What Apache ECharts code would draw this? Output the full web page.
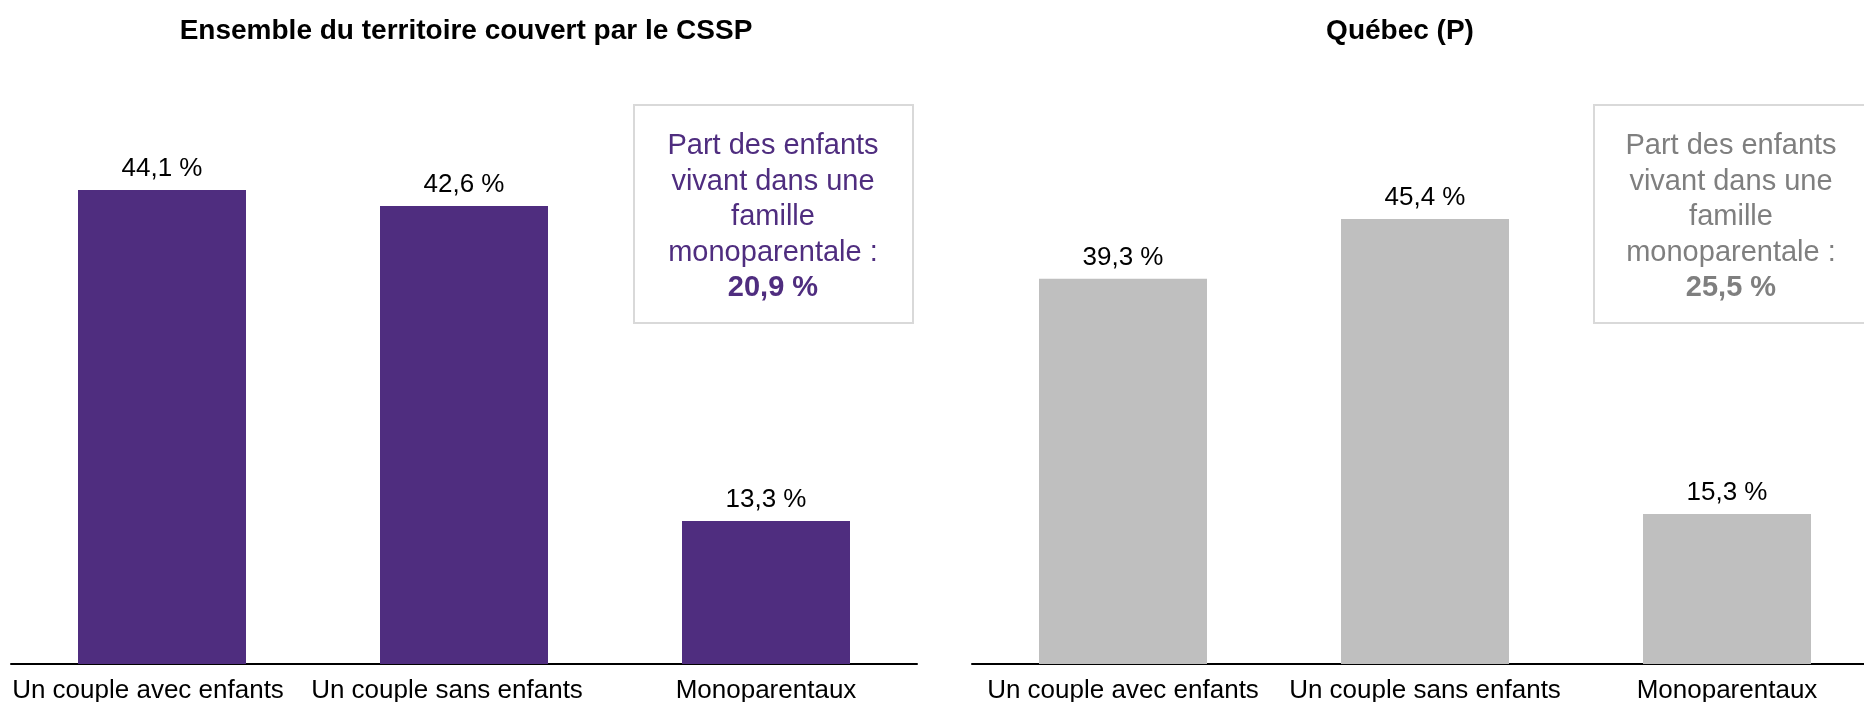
<!DOCTYPE html>
<html>
<head>
<meta charset="utf-8">
<script src="https://cdn.jsdelivr.net/npm/echarts@6/dist/echarts.min.js"></script>
<style>
  html, body { margin: 0; padding: 0; background: #fff; }
  #main { width: 1864px; height: 702px; }
</style>
</head>
<body>
<div id="main"></div>
<script>
// données
var categories = ['Un couple avec enfants', 'Un couple sans enfants', 'Monoparentaux'];
var cssp = [44.1, 42.6, 13.3];
var quebec = [39.3, 45.4, 15.3];
var titles = ['Ensemble du territoire couvert par le CSSP', 'Québec (P)'];
var monoShare = [20.9, 25.5];

var purple = '#4f2d7f';
var grey = '#bfbfbf';
var greyText = '#7f7f7f';
var font = '"Liberation Sans", Arial, sans-serif';

// petit décalage à gauche des étiquettes du premier graphique (comme l'original)
var leftShift = [[28, 34, 0], [0, 0, 0]];

function pct(v) {
    return v.toFixed(1).replace('.', ',') + ' %';
}

function boxText(v) {
    return 'Part des enfants\nvivant dans une\nfamille\nmonoparentale :\n{b|' + pct(v) + '}';
}

function axisX(gridIndex) {
    var rich = {};
    leftShift[gridIndex].forEach(function (s, i) {
        rich['c' + i] = { fontSize: 26, fontFamily: font, color: '#000', padding: [0, s, 0, 0] };
    });
    return {
        type: 'category',
        gridIndex: gridIndex,
        data: categories,
        axisLine: { lineStyle: { color: '#000', width: 2 } },
        axisTick: { show: false },
        axisLabel: {
            interval: 0, margin: 14, color: '#000', fontSize: 26, fontFamily: font,
            formatter: function (v, i) { return '{c' + i + '|' + v + '}'; },
            rich: rich
        }
    };
}

function axisY(gridIndex) {
    return {
        type: 'value', gridIndex: gridIndex, min: 0, max: 50,
        show: false, splitLine: { show: false }
    };
}

function barSeries(idx, data, color) {
    return {
        type: 'bar',
        xAxisIndex: idx,
        yAxisIndex: idx,
        data: data,
        barWidth: 168,
        itemStyle: { color: color },
        label: {
            show: true, position: 'top', distance: 8,
            color: '#000', fontSize: 26, fontFamily: font,
            formatter: function (p) { return pct(p.value); }
        }
    };
}

var myChart = echarts.init(document.getElementById('main'), null, { renderer: 'canvas' });

myChart.setOption({
    animation: false,
    backgroundColor: '#fff',
    grid: [
        { left: 11, top: 126.5, width: 906, height: 537.5, outerBoundsMode: 'none' },
        { left: 972, top: 174, width: 906, height: 490, outerBoundsMode: 'none' }
    ],
    xAxis: [axisX(0), axisX(1)],
    yAxis: [axisY(0), axisY(1)],
    series: [
        barSeries(0, cssp, purple),
        barSeries(1, quebec, grey)
    ],
    graphic: [
        {
            type: 'text', x: 466, y: 31,
            style: { text: titles[0], fill: '#000', font: 'bold 28px ' + font, align: 'center', verticalAlign: 'middle' }
        },
        {
            type: 'text', x: 1400, y: 31,
            style: { text: titles[1], fill: '#000', font: 'bold 28px ' + font, align: 'center', verticalAlign: 'middle' }
        },
        {
            type: 'rect', z: 10,
            shape: { x: 634, y: 105, width: 279, height: 218 },
            style: { fill: '#fff', stroke: '#d9d9d9', lineWidth: 2 }
        },
        {
            type: 'text', z: 11, x: 773, y: 217,
            style: {
                text: boxText(monoShare[0]),
                fill: purple, fontSize: 29, fontFamily: font, lineHeight: 35.5,
                align: 'center', verticalAlign: 'middle',
                rich: { b: { fontWeight: 'bold', fontSize: 29, fontFamily: font, lineHeight: 35.5, fill: purple } }
            }
        },
        {
            type: 'rect', z: 10,
            shape: { x: 1594, y: 105, width: 290, height: 218 },
            style: { fill: '#fff', stroke: '#d9d9d9', lineWidth: 2 }
        },
        {
            type: 'text', z: 11, x: 1731, y: 217,
            style: {
                text: boxText(monoShare[1]),
                fill: greyText, fontSize: 29, fontFamily: font, lineHeight: 35.5,
                align: 'center', verticalAlign: 'middle',
                rich: { b: { fontWeight: 'bold', fontSize: 29, fontFamily: font, lineHeight: 35.5, fill: greyText } }
            }
        }
    ]
});
</script>
</body>
</html>
